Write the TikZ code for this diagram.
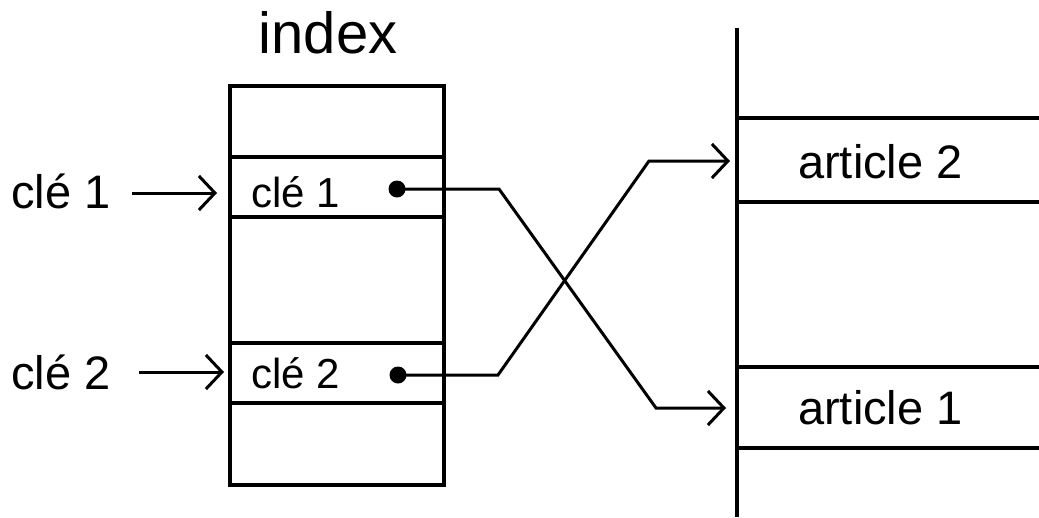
\documentclass[tikz,border=0pt]{standalone}
\usepackage{fontspec}
\setmainfont{Liberation Sans}
\usetikzlibrary{arrows.meta}
\begin{document}
\begin{tikzpicture}[x=1pt,y=-1pt,
  box/.style={line width=3.4pt},
  link/.style={line width=3pt, line join=miter},
  conn/.style={link, -{Straight Barb[length=16pt,width=34pt]}},
  dot/.style={circle, fill, inner sep=0pt, minimum size=17pt},
  slot/.style={inner sep=0pt, outer sep=0pt, anchor=north west},
  big/.style={font=\fontsize{47}{50}\selectfont, inner sep=0pt, anchor=base west},
  small/.style={font=\fontsize{42}{45}\selectfont, inner sep=0pt, anchor=base west},
  title/.style={font=\fontsize{58}{60}\selectfont, inner sep=0pt, anchor=base},
]
\useasboundingbox (0,0) rectangle (1039,517);

% index table
\node[draw, box, slot, minimum width=214pt, minimum height=399pt] (idx) at (230,86) {};
\node[draw, box, slot, minimum width=214pt, minimum height=60pt] (r1) at (230,157) {};
\node[draw, box, slot, minimum width=214pt, minimum height=60pt] (r2) at (230,343) {};
\node[title] (ttl) at (328,53) {index};
\node[small] (ik1) at (251,207) {clé 1};
\node[small] (ik2) at (251,388) {clé 2};
\node[dot] (d1) at (397,189) {};
\node[dot] (d2) at (398,375) {};

% left keys
\node[big] (lk1) at (11,208) {clé 1};
\node[big] (lk2) at (11,389) {clé 2};
\coordinate (k1s) at (132,193);
\coordinate (k1t) at (217,193);
\coordinate (k2s) at (139,372);
\coordinate (k2t) at (224,372);
\draw[conn] (k1s) -- (k1t);
\draw[conn] (k2s) -- (k2t);

% file of articles
\coordinate (vtop) at (737,28);
\coordinate (vbot) at (737,517);
\draw[box] (vtop) -- (vbot);
\node[slot, minimum width=302pt, minimum height=84pt] (a2) at (737,118) {};
\node[slot, minimum width=302pt, minimum height=81pt] (a1) at (737,367) {};
\draw[box] (a2.north west) -- (a2.north east) (a2.south west) -- (a2.south east);
\draw[box] (a1.north west) -- (a1.north east) (a1.south west) -- (a1.south east);
\node[big] (at2) at (798,178) {article 2};
\node[big] (at1) at (798,424) {article 1};

% pointers
\coordinate (p1a) at (499,189);
\coordinate (p1b) at (656,408);
\coordinate (p1t) at (726,408);
\coordinate (p2a) at (498,375);
\coordinate (p2b) at (649,161);
\coordinate (p2t) at (730,161);
\draw[conn] (d1.center) -- (p1a) -- (p1b) -- (p1t);
\draw[conn] (d2.center) -- (p2a) -- (p2b) -- (p2t);
\end{tikzpicture}
\end{document}
